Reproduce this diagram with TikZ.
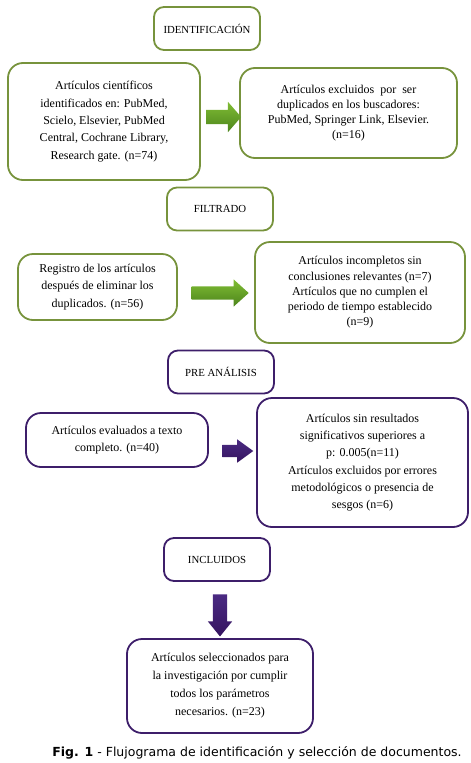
\documentclass[tikz,border=0pt]{standalone}
\usepackage{fontspec}
\setmainfont{Liberation Serif}
\newfontfamily\capfont{DejaVu Sans}
\usetikzlibrary{shapes.arrows}
\definecolor{gline}{HTML}{77933C}
\definecolor{pline}{HTML}{3D1E6A}
\definecolor{ghi}{HTML}{80BC34}
\definecolor{glo}{HTML}{4C851C}
\definecolor{phi}{HTML}{4A2A82}
\definecolor{plo}{HTML}{35145F}

\begin{document}
\begin{tikzpicture}[x=1pt, y=-1pt]
	\tikzstyle{stage} = [draw, line width=1.8pt, rounded corners=10pt, minimum width=106pt, minimum height=43pt, inner sep=2pt, font=\fontsize{10.8}{13}\selectfont]
	\tikzstyle{box} = [draw, line width=1.8pt, rounded corners=15pt, align=center, inner sep=2pt, font=\fontsize{12}{17.3}\selectfont]
	\tikzstyle{greenbox} = [draw=gline]
	\tikzstyle{purplebox} = [draw=pline]
	\tikzstyle{block} = [single arrow, draw=none, inner xsep=0pt]
	\tikzstyle{greenblock} = [block, top color=ghi, bottom color=glo]
	\tikzstyle{purpleblock} = [block, top color=phi, bottom color=plo]

	\useasboundingbox (0,0) rectangle (471,763);

	% identificacion
	\node[stage, greenbox] (ident) at (207,28.5) {IDENTIFICACIÓN};
	\node[box, greenbox, minimum width=192pt, minimum height=117pt] (found) at (104,121.5)
		{Artículos científicos\\identificados en: PubMed,\\Scielo, Elsevier, PubMed\\Central, Cochrane Library,\\Research gate. (n=74)};
	\node[box, greenbox, minimum width=217pt, minimum height=90pt, font=\fontsize{12}{15}\selectfont] (dupl) at (348.5,113)
		{Artículos excluidos \ por \ ser\\duplicados en los buscadores:\\PubMed, Springer Link, Elsevier.\\(n=16)};
	\node[greenblock, minimum height=35pt, inner ysep=7pt, single arrow head extend=8pt, single arrow tip angle=98] (a1) at (220.5,117) {};

	% filtrado
	\node[stage, greenbox] (filt) at (220,209) {FILTRADO};
	\node[box, greenbox, minimum width=159pt, minimum height=66pt] (reg) at (97.5,287)
		{Registro de los artículos\\después de eliminar los\\duplicados. (n=56)};
	\node[box, greenbox, minimum width=210pt, minimum height=101pt, font=\fontsize{12}{15.3}\selectfont] (incomp) at (360,292.5)
		{Artículos incompletos sin\\conclusiones relevantes (n=7)\\Artículos que no cumplen el\\periodo de tiempo establecido\\(n=9)};
	\node[greenblock, minimum height=57pt, inner ysep=6.5pt, single arrow head extend=7pt, single arrow tip angle=84] (a2) at (216.5,293) {};

	% pre analisis
	\node[stage, purplebox] (pre) at (221,372) {PRE ANÁLISIS};
	\node[box, purplebox, minimum width=182pt, minimum height=54pt] (eval) at (117,440)
		{Artículos evaluados a texto\\completo. (n=40)};
	\node[box, purplebox, minimum width=211pt, minimum height=129pt] (sinres) at (362.5,462.5)
		{Artículos sin resultados\\significativos superiores a\\p: 0.005(n=11)\\Artículos excluidos por errores\\metodológicos o presencia de\\sesgos (n=6)};
	\node[purpleblock, minimum height=31pt, inner ysep=6pt, single arrow head extend=5.5pt, single arrow tip angle=72] (a3) at (233.5,451) {};

	% incluidos
	\node[stage, purplebox] (incl) at (217,559.5) {INCLUIDOS};
	\node[purpleblock, rotate=-90, minimum height=42pt, inner ysep=7pt, single arrow head extend=5pt, single arrow tip angle=78] (a4) at (220,611) {};
	\node[box, purplebox, minimum width=186pt, minimum height=94pt, font=\fontsize{12}{18}\selectfont] (selec) at (220,686)
		{Artículos seleccionados para\\la investigación por cumplir\\todos los parámetros\\necesarios. (n=23)};

	\node[font=\capfont\fontsize{12.5}{15}\selectfont] (caption) at (257,753)
		{\textbf{Fig. 1} - Flujograma de identificación y selección de documentos.};
\end{tikzpicture}
\end{document}
